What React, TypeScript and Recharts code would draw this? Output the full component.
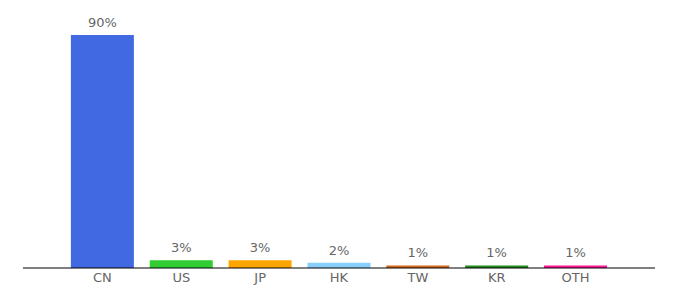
import { Bar, BarChart, Cell, LabelList, XAxis, YAxis } from 'recharts';

const COUNTRIES = ['CN', 'US', 'JP', 'HK', 'TW', 'KR', 'OTH'];
const SHARES = [90, 3, 3, 2, 1, 1, 1];
const BAR_COLORS = ['#4169e1', '#32cd32', '#ffa500', '#87cefa', '#d2691e', '#228b22', '#ff1493'];

const data = COUNTRIES.map((name, i) => ({ name, value: SHARES[i] }));

export default function App() {
  return (
    <div style={{ position: 'absolute', left: 0, top: 0 }}>
      <BarChart
        width={680}
        height={300}
        data={data}
        margin={{ top: 35, right: 25, left: 23, bottom: 2 }}
        barCategoryGap="10%"
      >
        <XAxis
          dataKey="name"
          axisLine={{ stroke: '#000' }}
          tickLine={false}
          tickSize={3}
          padding={{ left: 40, right: 40 }}
          tick={{ fill: '#666', fontSize: 13, fontFamily: 'DejaVu Sans' }}
        />
        <YAxis hide domain={[0, 90]} />
        <Bar dataKey="value" isAnimationActive={false}>
          {data.map((d, i) => (
            <Cell key={d.name} fill={BAR_COLORS[i]} />
          ))}
          <LabelList
            dataKey="value"
            position="top"
            offset={8}
            formatter={(v: number) => `${v}%`}
            style={{ fill: '#666', fontSize: 13, fontFamily: 'DejaVu Sans' }}
          />
        </Bar>
      </BarChart>
    </div>
  );
}
